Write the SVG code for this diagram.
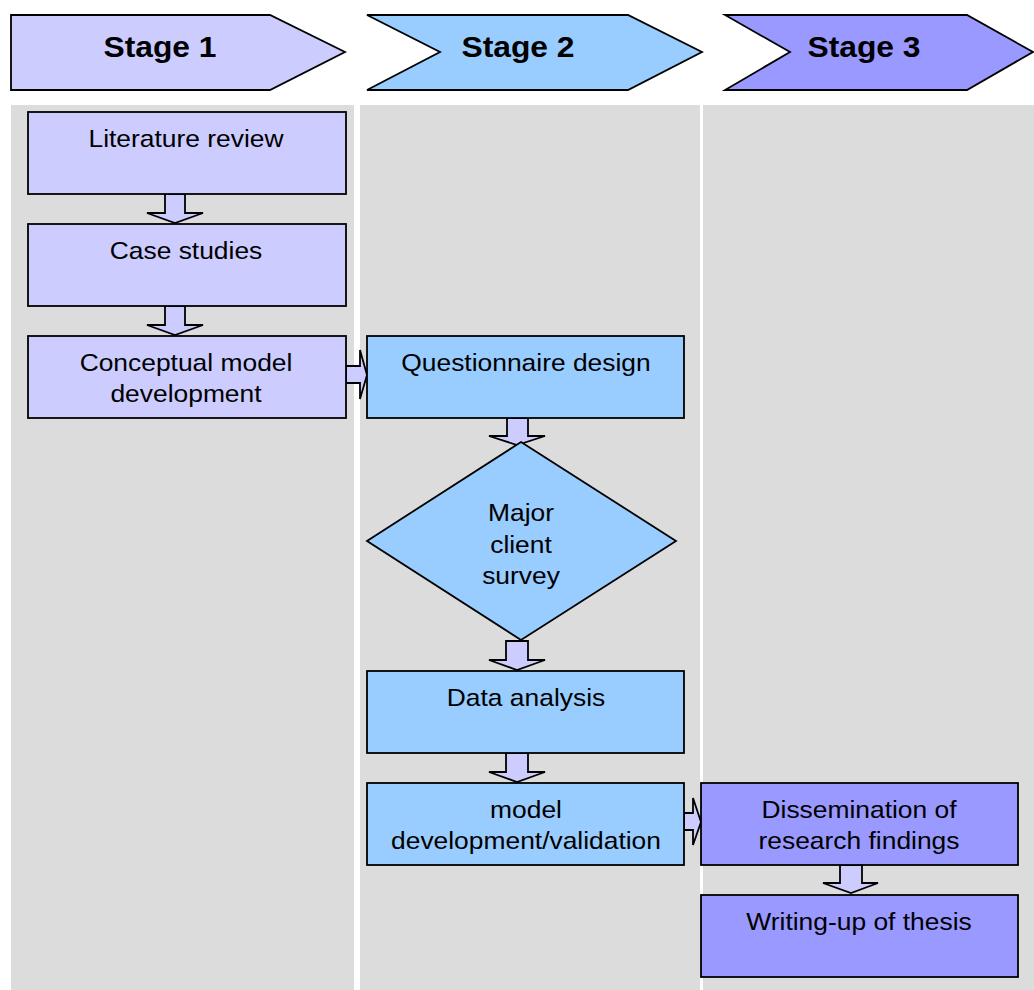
<svg xmlns="http://www.w3.org/2000/svg" width="1034" height="990" viewBox="0 0 1034 990">
  <defs>
    <style>
      .lane { fill: #dcdcdc; }
      .s1 { fill: #ccccff; stroke: #000; stroke-width: 1.8; }
      .s2 { fill: #99ccff; stroke: #000; stroke-width: 1.8; }
      .s3 { fill: #9999ff; stroke: #000; stroke-width: 1.8; }
      .blk { fill: #ccccff; stroke: #000; stroke-width: 1.8; stroke-linejoin: miter; }
      .hd { font-family: "Liberation Sans", Arial, sans-serif; font-weight: bold; font-size: 30px; text-anchor: middle; fill: #000; }
      .lbl { font-family: "Liberation Sans", Arial, sans-serif; font-size: 24px; text-anchor: middle; fill: #000; }
    </style>
  </defs>
  <rect width="1034" height="990" fill="#fff"/>

  <!-- swim lanes -->
  <g id="lanes">
    <rect class="lane" x="11" y="105" width="343" height="885"/>
    <rect class="lane" x="360" y="105" width="340" height="885"/>
    <rect class="lane" x="703" y="105" width="331" height="885"/>
  </g>

  <!-- stage headers (text slightly widened) -->
  <g id="stage1">
    <polygon class="s1" points="11,15 270,15 345,52 270,90 11,90"/>
    <text class="hd" transform="translate(160 57) scale(1.06 1)">Stage 1</text>
  </g>
  <g id="stage2">
    <polygon class="s2" points="367,15 628,15 702,52 628,90 367,90 440,52"/>
    <text class="hd" transform="translate(518 57) scale(1.06 1)">Stage 2</text>
  </g>
  <g id="stage3">
    <polygon class="s3" points="725,15 967,15 1033,52 967,90 725,90 790,52"/>
    <text class="hd" transform="translate(864 57) scale(1.06 1)">Stage 3</text>
  </g>

  <!-- connectors: block arrows -->
  <g id="connectors">
    <polygon class="blk" points="165,194 185,194 185,213 203,213 175,223 147,213 165,213"/>
    <polygon class="blk" points="165,306 185,306 185,325 203,325 175,335 147,325 165,325"/>
    <polygon class="blk" points="346,366 360,366 360,350 367,375 360,399 360,383 346,383"/>
    <polygon class="blk" points="507,418 528,418 528,436 545,436 517,445 489,436 507,436"/>
    <polygon class="blk" points="506,641 528,641 528,660 545,660 517,670 489,660 506,660"/>
    <polygon class="blk" points="506,753 528,753 528,772 545,772 517,782 489,772 506,772"/>
    <polygon class="blk" points="684,813 693,813 693,798 701,822 693,845 693,830 684,830"/>
    <polygon class="blk" points="840,865 862,865 862,883 878,883 851,893 823,883 840,883"/>
  </g>

  <!-- stage 1 nodes -->
  <g id="literature-review">
    <rect class="s1" x="28" y="112" width="318" height="82"/>
    <text class="lbl" transform="translate(186 147) scale(1.1 1)">Literature review</text>
  </g>
  <g id="case-studies">
    <rect class="s1" x="28" y="224" width="318" height="82"/>
    <text class="lbl" transform="translate(186 259) scale(1.1 1)">Case studies</text>
  </g>
  <g id="conceptual-model">
    <rect class="s1" x="28" y="336" width="318" height="82"/>
    <text class="lbl" transform="translate(186 371) scale(1.1 1)">Conceptual model</text>
    <text class="lbl" transform="translate(186 402) scale(1.1 1)">development</text>
  </g>

  <!-- stage 2 nodes -->
  <g id="questionnaire-design">
    <rect class="s2" x="367" y="336" width="317" height="82"/>
    <text class="lbl" transform="translate(526 371) scale(1.1 1)">Questionnaire design</text>
  </g>
  <g id="client-survey">
    <polygon class="s2" points="521,442 676,541 521,640 367,541"/>
    <text class="lbl" transform="translate(521 521) scale(1.1 1)">Major</text>
    <text class="lbl" transform="translate(521 553) scale(1.1 1)">client</text>
    <text class="lbl" transform="translate(521 584) scale(1.1 1)">survey</text>
  </g>
  <g id="data-analysis">
    <rect class="s2" x="367" y="671" width="317" height="82"/>
    <text class="lbl" transform="translate(526 706) scale(1.1 1)">Data analysis</text>
  </g>
  <g id="model-validation">
    <rect class="s2" x="367" y="783" width="317" height="82"/>
    <text class="lbl" transform="translate(526 818) scale(1.1 1)">model</text>
    <text class="lbl" transform="translate(526 849) scale(1.1 1)">development/validation</text>
  </g>

  <!-- stage 3 nodes -->
  <g id="dissemination">
    <rect class="s3" x="701" y="783" width="317" height="82"/>
    <text class="lbl" transform="translate(859 818) scale(1.1 1)">Dissemination of</text>
    <text class="lbl" transform="translate(859 849) scale(1.1 1)">research findings</text>
  </g>
  <g id="writing-up">
    <rect class="s3" x="701" y="895" width="317" height="82"/>
    <text class="lbl" transform="translate(859 930) scale(1.1 1)">Writing-up of thesis</text>
  </g>
</svg>
